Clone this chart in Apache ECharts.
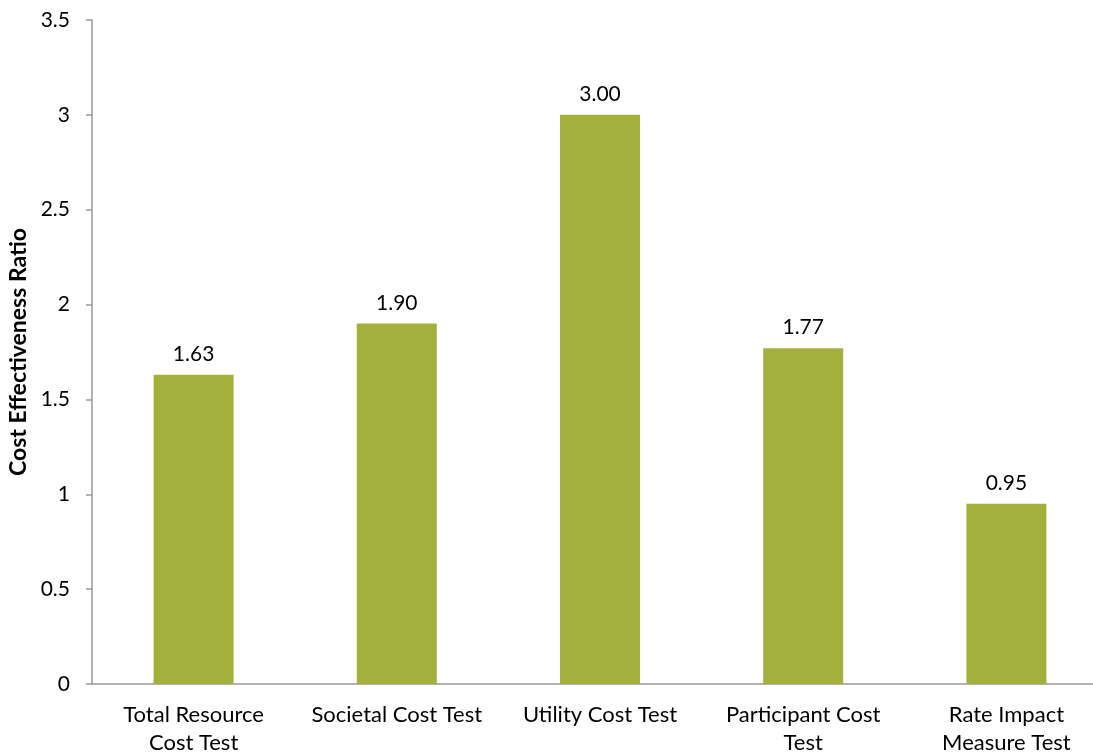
<!DOCTYPE html>
<html>
<head>
<meta charset="utf-8">
<script src="https://cdn.jsdelivr.net/npm/echarts@6/dist/echarts.min.js"></script>
<style>
  html, body { margin: 0; padding: 0; background: #fff; }
  #main { width: 1093px; height: 752px; }
</style>
</head>
<body>
<div id="main"></div>
<script>
// 数据
var categories = ['Total Resource\nCost Test', 'Societal Cost Test', 'Utility Cost Test', 'Participant Cost\nTest', 'Rate Impact\nMeasure Test'];
var ratios = [1.63, 1.90, 3.00, 1.77, 0.95];
var yTicks = { min: 0, max: 3.5, interval: 0.5 };

var myChart = echarts.init(document.getElementById('main'));
var fontFam = '"Lato", "DejaVu Sans", sans-serif';

option = {
    animation: false,
    grid: { left: 92, right: -15, top: 20, bottom: 68, outerBoundsMode: 'none', containLabel: false },
    xAxis: {
        type: 'category',
        data: categories,
        axisLine: { lineStyle: { color: '#999', width: 1.5 } },
        axisTick: { show: false },
        axisLabel: {
            color: '#000',
            fontSize: 22,
            fontFamily: fontFam,
            lineHeight: 28,
            margin: 17,
            interval: 0
        }
    },
    yAxis: {
        type: 'value',
        min: yTicks.min,
        max: yTicks.max,
        interval: yTicks.interval,
        name: 'Cost Effectiveness Ratio',
        nameLocation: 'middle',
        nameGap: 61,
        nameTextStyle: { color: '#000', fontSize: 23, fontWeight: 'bold', fontFamily: fontFam },
        splitLine: { show: false },
        axisLine: { show: true, lineStyle: { color: '#999', width: 1.5 } },
        axisTick: { show: true, length: 6, lineStyle: { color: '#999', width: 1.5 } },
        axisLabel: {
            color: '#000',
            fontSize: 21,
            fontFamily: fontFam,
            margin: 22
        }
    },
    series: [
        {
            type: 'bar',
            data: ratios,
            barWidth: 80,
            itemStyle: { color: '#a3b13c' },
            label: {
                show: true,
                position: 'top',
                distance: 10,
                color: '#000',
                fontSize: 21,
                fontFamily: fontFam,
                formatter: function (p) { return p.value.toFixed(2); }
            }
        }
    ]
};

myChart.setOption(option);
</script>
</body>
</html>
